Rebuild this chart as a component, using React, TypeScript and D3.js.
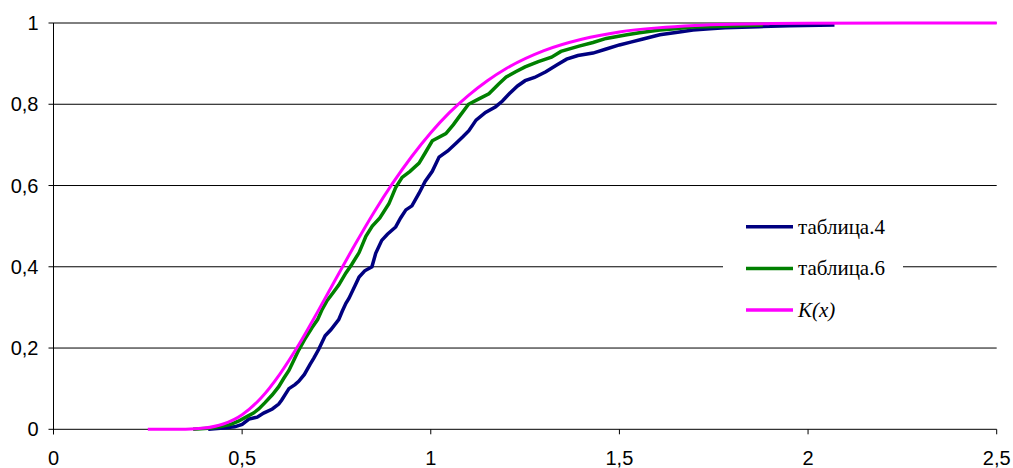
import React from "react";
import * as d3 from "d3";

// Empirical distribution, table 4
const table4X = [0.41, 0.45, 0.48, 0.5, 0.518, 0.54, 0.557, 0.58, 0.597, 0.605, 0.624, 0.64, 0.65, 0.665, 0.68, 0.69, 0.703, 0.72, 0.735, 0.756, 0.765, 0.775, 0.783, 0.8, 0.81, 0.825, 0.844, 0.854, 0.87, 0.885, 0.907, 0.92, 0.934, 0.95, 0.969, 0.985, 1.004, 1.022, 1.045, 1.067, 1.085, 1.101, 1.12, 1.145, 1.172, 1.19, 1.208, 1.23, 1.25, 1.275, 1.305, 1.335, 1.36, 1.39, 1.43, 1.465, 1.5, 1.53, 1.56, 1.607, 1.659, 1.695, 1.74, 1.78, 1.87, 1.95, 2.07];
const table4Y = [0.0, 0.003, 0.006, 0.012, 0.025, 0.03, 0.04, 0.05, 0.062, 0.072, 0.1, 0.11, 0.118, 0.135, 0.16, 0.175, 0.197, 0.23, 0.245, 0.27, 0.29, 0.31, 0.322, 0.355, 0.375, 0.39, 0.4, 0.433, 0.465, 0.48, 0.498, 0.52, 0.54, 0.55, 0.581, 0.61, 0.635, 0.67, 0.685, 0.704, 0.72, 0.735, 0.761, 0.78, 0.794, 0.808, 0.826, 0.845, 0.858, 0.866, 0.88, 0.897, 0.911, 0.92, 0.926, 0.936, 0.946, 0.953, 0.96, 0.971, 0.978, 0.983, 0.986, 0.988, 0.991, 0.993, 0.995];

// Empirical distribution, table 6
const table6X = [0.37, 0.42, 0.44, 0.47, 0.49, 0.51, 0.53, 0.544, 0.56, 0.58, 0.597, 0.61, 0.624, 0.637, 0.65, 0.665, 0.685, 0.7, 0.711, 0.724, 0.74, 0.756, 0.775, 0.79, 0.81, 0.828, 0.845, 0.865, 0.889, 0.907, 0.924, 0.945, 0.969, 0.985, 1.004, 1.04, 1.06, 1.075, 1.1, 1.125, 1.154, 1.18, 1.2, 1.225, 1.25, 1.285, 1.32, 1.345, 1.393, 1.43, 1.465, 1.52, 1.553, 1.607, 1.64, 1.695, 1.78, 1.88];
const table6Y = [0.0, 0.003, 0.006, 0.012, 0.02, 0.03, 0.04, 0.05, 0.065, 0.085, 0.105, 0.125, 0.145, 0.17, 0.195, 0.22, 0.25, 0.27, 0.293, 0.315, 0.335, 0.355, 0.385, 0.405, 0.435, 0.475, 0.5, 0.52, 0.555, 0.595, 0.62, 0.635, 0.655, 0.68, 0.71, 0.728, 0.75, 0.769, 0.8, 0.812, 0.826, 0.85, 0.867, 0.88, 0.892, 0.905, 0.916, 0.93, 0.943, 0.952, 0.962, 0.971, 0.976, 0.983, 0.985, 0.99, 0.992, 0.995];

// Kolmogorov distribution K(x)
const kX = [0.25, 0.3, 0.35, 0.4, 0.45, 0.5, 0.55, 0.6, 0.65, 0.7, 0.75, 0.8, 0.85, 0.9, 0.95, 1.0, 1.05, 1.1, 1.15, 1.2, 1.3, 1.4, 1.5, 1.6, 1.7, 1.8, 1.9, 2.0, 2.25, 2.5];
const kY = [0.0, 0.0, 0.0003, 0.003, 0.013, 0.036, 0.077, 0.136, 0.208, 0.289, 0.373, 0.456, 0.535, 0.607, 0.672, 0.73, 0.78, 0.822, 0.858, 0.888, 0.932, 0.96, 0.978, 0.988, 0.994, 0.997, 0.9985, 0.9993, 1.0, 1.0];

const xTicks = [0, 0.5, 1, 1.5, 2, 2.5];
const yTicks = [0, 0.2, 0.4, 0.6, 0.8, 1];

const legendItems = [
  { label: "таблица.4", color: "#000080", italic: false },
  { label: "таблица.6", color: "#008000", italic: false },
  { label: "K(x)", color: "#FF00FF", italic: true },
];

const fmt = (v: number) => String(v).replace(".", ",");

export default function App() {
  const W = 1013;
  const H = 468;
  const x = d3.scaleLinear().domain([0, 2.5]).range([53.5, 996.7]);
  const y = d3.scaleLinear().domain([0, 1]).range([429.3, 23]);

  const toPts = (xs: number[], ys: number[]) => xs.map((v, i) => [v, ys[i]] as [number, number]);

  const ecdfLine = d3
    .line<[number, number]>()
    .x((d) => x(d[0]))
    .y((d) => y(d[1]))
    .curve(d3.curveLinear);

  const smoothLine = d3
    .line<[number, number]>()
    .x((d) => x(d[0]))
    .y((d) => y(d[1]))
    .curve(d3.curveMonotoneX);

  const axisColor = "#000";
  const font = "'Liberation Sans', Arial, sans-serif";
  const serif = "'Liberation Serif', 'DejaVu Serif', 'Times New Roman', serif";

  return (
    <svg
      width={W}
      height={H}
      style={{ position: "absolute", left: 0, top: 0, background: "#fff" }}
    >
      <rect x={0} y={0} width={W} height={H} fill="#fff" />
      {/* horizontal grid */}
      {yTicks.map((t) => (
        <line
          key={"g" + t}
          x1={x(0) - 5}
          x2={x(2.5)}
          y1={y(t)}
          y2={y(t)}
          stroke={axisColor}
          strokeWidth={1}
        />
      ))}
      {/* axes */}
      <line x1={x(0)} x2={x(0)} y1={y(1)} y2={y(0) + 5} stroke={axisColor} strokeWidth={1} />
      {xTicks.map((t) => (
        <line
          key={"xt" + t}
          x1={x(t)}
          x2={x(t)}
          y1={y(0)}
          y2={y(0) + 5}
          stroke={axisColor}
          strokeWidth={1}
        />
      ))}
      {yTicks.map((t) => (
        <text
          key={"yl" + t}
          x={38.5}
          y={y(t)}
          textAnchor="end"
          dominantBaseline="central"
          fontFamily={font}
          fontSize={20}
          fill="#000"
        >
          {fmt(t)}
        </text>
      ))}
      {xTicks.map((t) => (
        <text
          key={"xl" + t}
          x={x(t)}
          y={457.5}
          textAnchor="middle"
          dominantBaseline="central"
          fontFamily={font}
          fontSize={20}
          fill="#000"
        >
          {fmt(t)}
        </text>
      ))}

      {/* series */}
      <path d={ecdfLine(toPts(table4X, table4Y)) || ""} fill="none" stroke="#000080" strokeWidth={3.5} strokeLinejoin="miter" />
      <path d={ecdfLine(toPts(table6X, table6Y)) || ""} fill="none" stroke="#008000" strokeWidth={3.5} strokeLinejoin="miter" />
      <path d={smoothLine(toPts(kX, kY)) || ""} fill="none" stroke="#FF00FF" strokeWidth={3} strokeLinejoin="round" />

      {/* legend */}
      <rect x={723} y={205} width={180} height={125} fill="#fff" />
      {legendItems.map((it, i) => {
        const ly = 226.7 + i * 41.7;
        return (
          <g key={it.label}>
            <line x1={746} x2={793} y1={ly} y2={ly} stroke={it.color} strokeWidth={3.5} />
            <text
              x={798}
              y={ly}
              dominantBaseline="central"
              fontFamily={serif}
              fontSize={21}
              fontStyle={it.italic ? "italic" : "normal"}
              fill="#000"
            >
              {it.label}
            </text>
          </g>
        );
      })}
    </svg>
  );
}
